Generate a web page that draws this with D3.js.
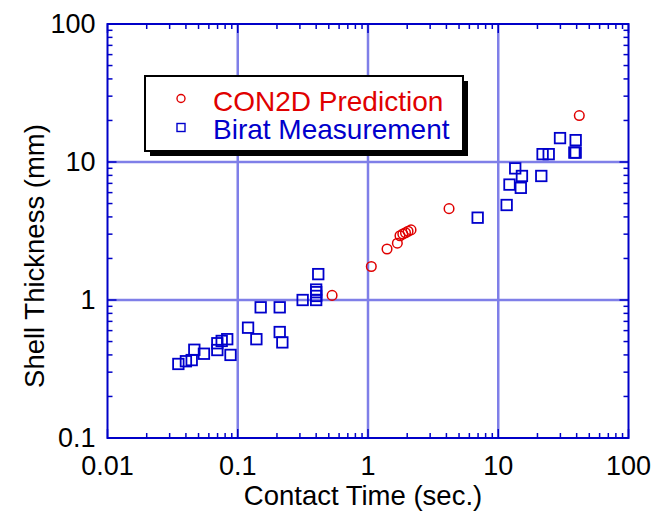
<!DOCTYPE html>
<html>
<head>
<meta charset="utf-8">
<script src="https://cdn.jsdelivr.net/npm/d3@7"></script>
<style>
  body { margin: 0; background: #fff; }
  svg { display: block; }
  text { font-family: "Liberation Sans", Arial, sans-serif; }
</style>
</head>
<body>
<svg id="chart" width="654" height="515"></svg>
<script>
// CON2D prediction (red circles)
var con2dTime = [0.53, 1.06, 1.40, 1.68, 1.76, 1.85, 1.94, 2.03, 2.14, 4.19, 41.9];
var con2dThick = [1.08, 1.75, 2.34, 2.58, 2.92, 3.01, 3.07, 3.15, 3.22, 4.59, 21.7];

// Birat measurement (blue squares)
var biratTime = [0.035, 0.040, 0.0443, 0.0464, 0.055, 0.0697, 0.0697, 0.0753, 0.083, 0.088,
    0.12, 0.139, 0.150, 0.21, 0.21, 0.22, 0.315,
    0.40, 0.40, 0.40, 0.40, 0.415,
    6.95, 11.6, 12.2, 13.5, 14.9, 15.2, 21.4, 21.9, 24.4, 29.8, 38.4, 39.3, 39.3];
var biratThick = [0.344, 0.36, 0.367, 0.436, 0.408, 0.486, 0.434, 0.505, 0.52, 0.40,
    0.63, 0.52, 0.885, 0.885, 0.586, 0.493, 1.0,
    1.0, 1.07, 1.14, 1.19, 1.54,
    3.95, 4.88, 6.86, 8.99, 6.5, 7.92, 7.92, 11.4, 11.4, 14.9, 11.7, 11.7, 14.4];

var xTicks = [0.01, 0.1, 1, 10, 100];
var yTicks = [0.1, 1, 10, 100];
var xTickLabels = ["0.01", "0.1", "1", "10", "100"];
var yTickLabels = ["0.1", "1", "10", "100"];

var frameColor = "#0000c8";
var gridColor = "#7f7fe8";
var red = "#e00000";
var blue = "#0000cc";

var svg = d3.select("#chart");
var plotLeft = 107.5, plotRight = 628.5, plotTop = 24, plotBottom = 438;

var x = d3.scaleLog().domain([0.01, 100]).range([plotLeft, plotRight]);
var y = d3.scaleLog().domain([0.1, 100]).range([plotBottom, plotTop]);

// minor ticks: 2..9 in every decade
function minorTicks(lo, hi) {
    var out = [];
    for (var d = lo; d < hi * 0.999; d *= 10) {
        for (var k = 2; k <= 9; k++) out.push(d * k);
    }
    return out;
}
var xMinor = minorTicks(0.01, 100);
var yMinor = minorTicks(0.1, 100);

// grid
var grid = svg.append("g");
grid.selectAll(".gx").data(xTicks.slice(1, -1)).enter().append("line")
    .attr("x1", function (d) { return x(d); })
    .attr("x2", function (d) { return x(d); })
    .attr("y1", plotTop).attr("y2", plotBottom)
    .attr("stroke", gridColor).attr("stroke-width", 2.5);
grid.selectAll(".gy").data(yTicks.slice(1, -1)).enter().append("line")
    .attr("y1", function (d) { return y(d); })
    .attr("y2", function (d) { return y(d); })
    .attr("x1", plotLeft).attr("x2", plotRight)
    .attr("stroke", gridColor).attr("stroke-width", 2.5);

// ticks on all four sides, pointing inward
var ax = svg.append("g").attr("stroke", frameColor).attr("stroke-width", 1.5);
function tickLines(data, len, side) {
    ax.selectAll(null).data(data).enter().append("line")
        .each(function (d) {
            var l = d3.select(this);
            if (side === "bottom") l.attr("x1", x(d)).attr("x2", x(d)).attr("y1", plotBottom).attr("y2", plotBottom - len);
            if (side === "top") l.attr("x1", x(d)).attr("x2", x(d)).attr("y1", plotTop).attr("y2", plotTop + len);
            if (side === "left") l.attr("y1", y(d)).attr("y2", y(d)).attr("x1", plotLeft).attr("x2", plotLeft + len);
            if (side === "right") l.attr("y1", y(d)).attr("y2", y(d)).attr("x1", plotRight).attr("x2", plotRight - len);
        });
}
tickLines(xMinor, 5, "bottom");
tickLines(xMinor, 5, "top");
tickLines(yMinor, 5, "left");
tickLines(yMinor, 5, "right");
tickLines(xTicks, 9, "bottom");
tickLines(xTicks, 9, "top");
tickLines(yTicks, 9, "left");
tickLines(yTicks, 9, "right");

svg.append("rect")
    .attr("x", plotLeft).attr("y", plotTop)
    .attr("width", plotRight - plotLeft).attr("height", plotBottom - plotTop)
    .attr("fill", "none").attr("stroke", frameColor).attr("stroke-width", 2);

// tick labels
svg.selectAll(".xl").data(xTicks).enter().append("text")
    .attr("x", function (d) { return x(d); })
    .attr("y", plotBottom + 37)
    .attr("text-anchor", "middle")
    .attr("font-size", 27)
    .text(function (d, i) { return xTickLabels[i]; });
svg.selectAll(".yl").data(yTicks).enter().append("text")
    .attr("x", plotLeft - 12)
    .attr("y", function (d) { return y(d) + 9; })
    .attr("text-anchor", "end")
    .attr("font-size", 27)
    .text(function (d, i) { return yTickLabels[i]; });

// axis titles
svg.append("text")
    .attr("x", 363).attr("y", 505)
    .attr("text-anchor", "middle").attr("font-size", 27.5)
    .text("Contact Time (sec.)");
svg.append("text")
    .attr("transform", "translate(44,256) rotate(-90)")
    .attr("text-anchor", "middle").attr("font-size", 27.5)
    .text("Shell Thickness (mm)");

// data
svg.append("g").selectAll("rect").data(biratTime).enter().append("rect")
    .attr("x", function (d) { return x(d) - 5.25; })
    .attr("y", function (d, i) { return y(biratThick[i]) - 5.25; })
    .attr("width", 10.5).attr("height", 10.5)
    .attr("fill", "none").attr("stroke", blue).attr("stroke-width", 1.8);
svg.append("g").selectAll("circle").data(con2dTime).enter().append("circle")
    .attr("cx", function (d) { return x(d); })
    .attr("cy", function (d, i) { return y(con2dThick[i]); })
    .attr("r", 4.8)
    .attr("fill", "none").attr("stroke", red).attr("stroke-width", 1.5);

// legend
var lg = svg.append("g");
lg.append("rect").attr("x", 150).attr("y", 81).attr("width", 318).attr("height", 75).attr("fill", "#000");
lg.append("rect").attr("x", 145).attr("y", 76).attr("width", 318).attr("height", 75)
    .attr("fill", "#fff").attr("stroke", "#000").attr("stroke-width", 2);
lg.append("circle").attr("cx", 181).attr("cy", 98.5).attr("r", 4)
    .attr("fill", "none").attr("stroke", red).attr("stroke-width", 1.4);
lg.append("rect").attr("x", 177).attr("y", 123.5).attr("width", 8).attr("height", 8)
    .attr("fill", "none").attr("stroke", blue).attr("stroke-width", 1.4);
lg.append("text").attr("x", 213).attr("y", 110.5).attr("font-size", 28)
    .attr("fill", red).text("CON2D Prediction");
lg.append("text").attr("x", 213).attr("y", 139).attr("font-size", 28)
    .attr("fill", blue).text("Birat Measurement");
</script>
</body>
</html>
